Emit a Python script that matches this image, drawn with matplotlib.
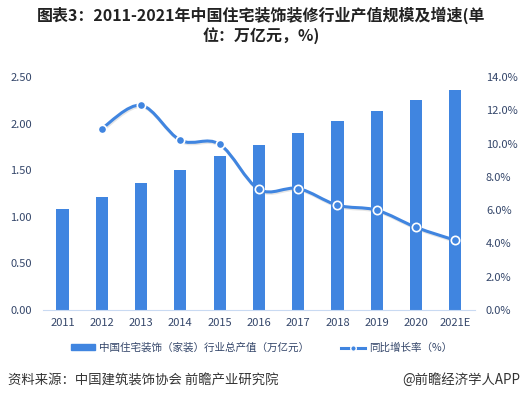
import matplotlib
matplotlib.use('Agg')
import matplotlib.pyplot as plt
from matplotlib.path import Path
from matplotlib.patches import PathPatch
from matplotlib.lines import Line2D
import matplotlib.patheffects as pe

plt.rcParams['font.family'] = ['Noto Sans CJK SC', 'DejaVu Sans']

years = ['2011', '2012', '2013', '2014', '2015', '2016', '2017', '2018', '2019', '2020', '2021E']
output_value = [1.08, 1.21, 1.36, 1.50, 1.65, 1.77, 1.90, 2.03, 2.14, 2.25, 2.36]
growth_rate = [None, 10.9, 12.3, 10.2, 9.96, 7.25, 7.3, 6.3, 6.0, 4.97, 4.19]

BLUE = '#4085E0'
TEXT = '#34466A'


def smooth_path(xs, ys, tension=0.5):
    # catmull-rom -> bezier, 曲线经过每个数据点
    verts = [(xs[0], ys[0])]
    codes = [Path.MOVETO]
    n = len(xs)
    for i in range(n - 1):
        x0, y0 = (xs[i - 1], ys[i - 1]) if i > 0 else (xs[i], ys[i])
        x1, y1 = xs[i], ys[i]
        x2, y2 = xs[i + 1], ys[i + 1]
        x3, y3 = (xs[i + 2], ys[i + 2]) if i + 2 < n else (x2, y2)
        c1 = (x1 + (x2 - x0) * tension / 3, y1 + (y2 - y0) * tension / 3)
        c2 = (x2 - (x3 - x1) * tension / 3, y2 - (y3 - y1) * tension / 3)
        verts += [c1, c2, (x2, y2)]
        codes += [Path.CURVE4] * 3
    return Path(verts, codes)


fig = plt.figure(figsize=(5.23, 3.99), dpi=100)
ax = fig.add_axes([0.082, 0.223, 0.826, 0.584])
x = list(range(len(years)))
ax.bar(x, output_value, width=0.31, color=BLUE, zorder=2)
ax.set_xlim(-0.5, len(years) - 0.5)
ax.set_ylim(0, 2.5)
ax.set_yticks([0, 0.5, 1.0, 1.5, 2.0, 2.5])
ax.set_yticklabels([f'{v:.2f}' for v in [0, 0.5, 1.0, 1.5, 2.0, 2.5]])
ax.set_xticks(x)
ax.set_xticklabels(years)
for s in ['top', 'right', 'left']:
    ax.spines[s].set_visible(False)
ax.spines['bottom'].set_color('#C9DAF2')
ax.tick_params(axis='both', length=0, labelsize=8, colors=TEXT)
ax.tick_params(axis='y', pad=8)
ax.tick_params(axis='x', pad=6)

ax2 = ax.twinx()
ax2.set_ylim(0, 14)
ax2.set_yticks([0, 2, 4, 6, 8, 10, 12, 14])
ax2.set_yticklabels([f'{v:.1f}%' for v in [0, 2, 4, 6, 8, 10, 12, 14]])
for s in ax2.spines.values():
    s.set_visible(False)
ax2.tick_params(axis='y', length=0, labelsize=8, colors=TEXT, pad=8)

gx = [i for i, g in zip(x, growth_rate) if g is not None]
gy = [g for g in growth_rate if g is not None]
patch = PathPatch(smooth_path(gx, gy), facecolor='none', edgecolor=BLUE, lw=2.2, zorder=3,
                  path_effects=[pe.SimpleLineShadow(offset=(0.6, -1), shadow_color='gray', alpha=0.2),
                                pe.Normal()])
ax2.add_patch(patch)
ax2.plot(gx, gy, linestyle='none', marker='o', markersize=6, markerfacecolor=BLUE,
         markeredgecolor='white', markeredgewidth=1.2, zorder=4)

fig.text(0.5, 0.962, '图表3：2011-2021年中国住宅装饰装修行业产值规模及增速(单', ha='center', va='center',
         fontsize=11.5, fontweight='bold', color='#222222')
fig.text(0.5, 0.91, '位：万亿元，%)', ha='center', va='center',
         fontsize=11.5, fontweight='bold', color='#222222')

handles = [plt.Rectangle((0, 0), 1, 1, color=BLUE),
           Line2D([0], [0], color=BLUE, lw=2.2, marker='o', markersize=4,
                  markerfacecolor=BLUE, markeredgecolor='white')]
fig.legend(handles, ['中国住宅装饰（家装）行业总产值（万亿元）', '同比增长率（%）'],
           loc='center', bbox_to_anchor=(0.5, 0.128), ncol=2, frameon=False, fontsize=7.6,
           labelcolor=TEXT, handlelength=2.3, handleheight=0.45, columnspacing=3, handletextpad=0.4)

fig.text(0.015, 0.047, '资料来源：中国建筑装饰协会 前瞻产业研究院', ha='left', va='center',
         fontsize=9.6, color='#333333')
fig.text(0.995, 0.047, '@前瞻经济学人APP', ha='right', va='center', fontsize=9.6, color='#333333')

fig.savefig('out.png', dpi=100)
